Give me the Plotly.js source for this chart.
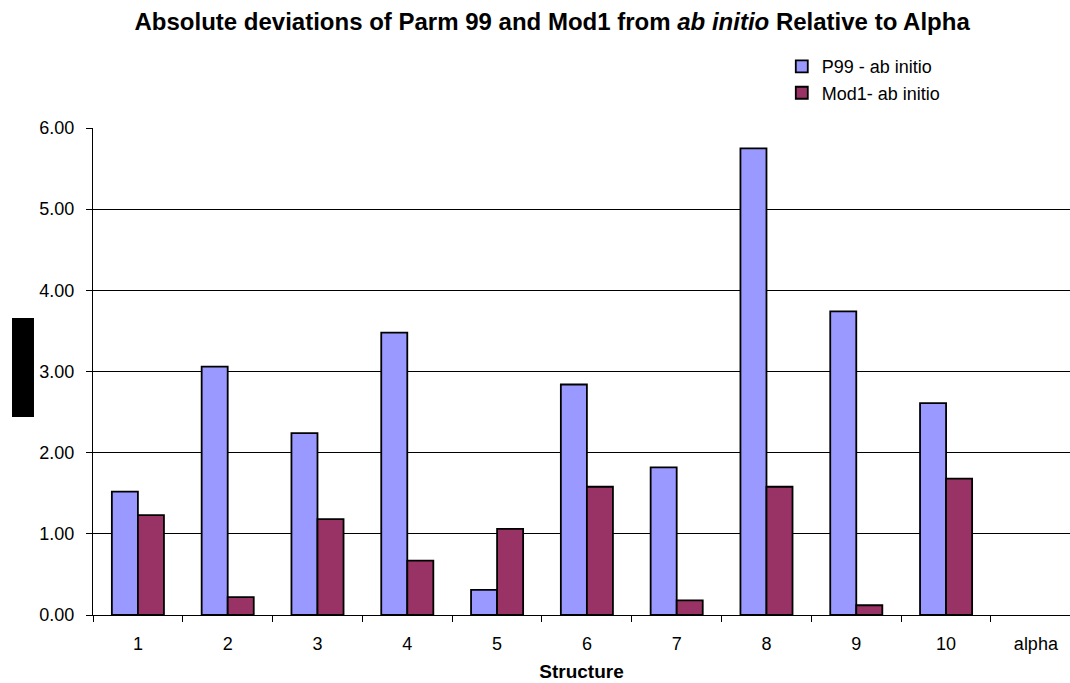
<!DOCTYPE html>
<html>
<head>
<meta charset="utf-8">
<script src="https://cdn.plot.ly/plotly-3.0.1.min.js"></script>
<style>html,body{margin:0;padding:0;background:#fff;}#chart{width:1070px;height:683px;}</style>
</head>
<body>
<div id="chart"></div>
<script>
var categories = ["1","2","3","4","5","6","7","8","9","10","alpha"];
var p99Values  = [1.52, 3.06, 2.24, 3.48, 0.31, 2.84, 1.82, 5.75, 3.74, 2.61, null];
var mod1Values = [1.23, 0.22, 1.18, 0.67, 1.06, 1.58, 0.18, 1.58, 0.12, 1.68, null];
var yTickVals  = [0, 1, 2, 3, 4, 5, 6];
var yTickText  = ["0.00", "1.00", "2.00", "3.00", "4.00", "5.00", "6.00"];
var seriesNames = ["P99 - ab initio", "Mod1- ab initio"];

var font = "Liberation Sans, Arial, sans-serif";

var traces = [
  {
    type: "bar", x: categories, y: p99Values, name: seriesNames[0],
    legendgroup: "a",
    marker: {color: "#9999FF", line: {color: "#000000", width: 1.8}},
    hoverinfo: "x+y"
  },
  {
    type: "bar", x: categories, y: mod1Values, name: seriesNames[1],
    legendgroup: "b",
    marker: {color: "#993366", line: {color: "#000000", width: 1.8}},
    hoverinfo: "x+y"
  }
];

var layout = {
  width: 1070, height: 683,
  paper_bgcolor: "#ffffff", plot_bgcolor: "#ffffff",
  font: {family: font, size: 18, color: "#000000"},
  margin: {l: 93, r: 0, t: 128, b: 68, pad: 0},
  title: {
    text: "<b>Absolute deviations of Parm 99 and Mod1 from <i>ab initio</i> Relative to Alpha</b>",
    font: {family: font, size: 24, color: "#000000"},
    x: 0.516, xanchor: "center", y: 0.968, yanchor: "middle"
  },
  barmode: "group", bargap: 0.42, bargroupgap: 0,
  xaxis: {
    type: "category", range: [-0.5, 10.38],
    showline: true, linecolor: "#000000", linewidth: 1,
    ticks: "outside", tickson: "boundaries", ticklen: 6, tickcolor: "#000000", tickwidth: 1,
    tickfont: {family: font, size: 18, color: "#000000"},
    ticklabelstandoff: 12,
    showgrid: false, zeroline: false, fixedrange: true,
    title: {text: "<b>Structure</b>", font: {family: font, size: 19, color: "#000000"}, standoff: 12}
  },
  yaxis: {
    range: [0, 6], tickvals: yTickVals, ticktext: yTickText,
    showline: true, linecolor: "#000000", linewidth: 1,
    ticks: "outside", ticklen: 6, tickcolor: "#000000", tickwidth: 1,
    tickfont: {family: font, size: 18, color: "#000000"},
    ticklabelstandoff: 8,
    showgrid: true, gridcolor: "#000000", gridwidth: 1,
    zeroline: false, fixedrange: true
  },
  showlegend: true,
  legend: {
    x: 0.705, xanchor: "left", y: 1.164, yanchor: "top",
    traceorder: "grouped", tracegroupgap: 0,
    font: {family: font, size: 18, color: "#000000"},
    bgcolor: "rgba(0,0,0,0)", borderwidth: 0,
    itemwidth: 30
  },
  shapes: [
    {type: "rect", xref: "paper", yref: "paper",
     x0: -0.0829, x1: -0.0604, y0: 0.4066, y1: 0.6099,
     fillcolor: "#000000", line: {width: 0}}
  ]
};

Plotly.newPlot("chart", traces, layout, {displayModeBar: false, staticPlot: true});
</script>
</body>
</html>
